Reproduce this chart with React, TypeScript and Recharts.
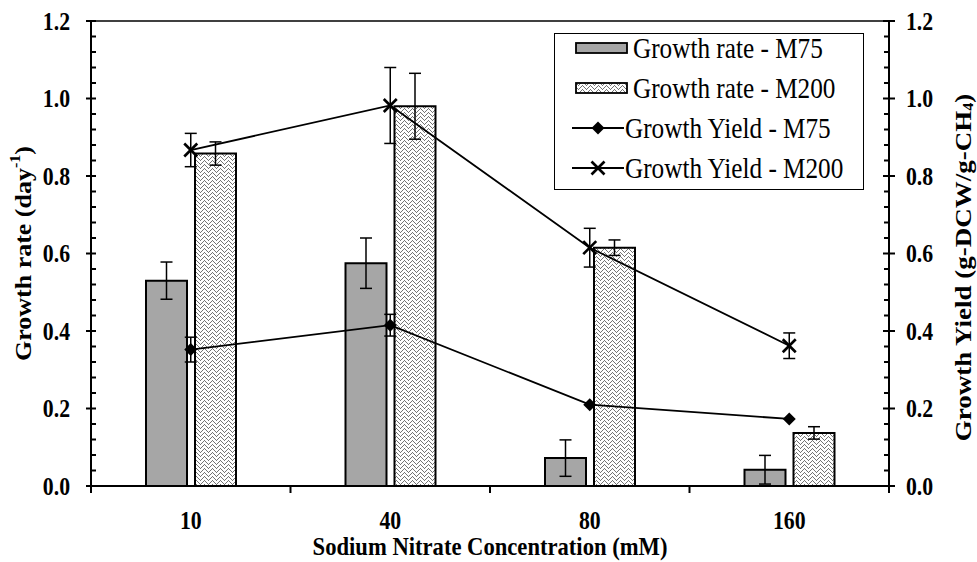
import React from 'react';
import {
  ComposedChart,
  Bar,
  Line,
  XAxis,
  YAxis,
  ErrorBar,
  ReferenceLine,
  Legend,
  Label,
} from 'recharts';

// Sodium nitrate concentrations (mM)
const concentrations = ['10', '40', '80', '160'];

// Specific growth rate (day^-1) and its error
const rateM75 = [0.53, 0.575, 0.072, 0.042];
const rateM75Err = [0.048, 0.065, 0.047, 0.037];
const rateM200 = [0.858, 0.98, 0.615, 0.137];
const rateM200Err = [0.03, 0.085, 0.02, 0.016];

// Growth yield (g-DCW / g-CH4) and its error
const yieldM75 = [0.352, 0.415, 0.21, 0.173];
const yieldM75Err = [0.032, 0.028, null, null];
const yieldM200 = [0.867, 0.982, 0.615, 0.362];
const yieldM200Err = [0.043, 0.098, 0.05, 0.033];

// Axis ticks: labelled majors plus unlabelled minors
const axisTicks = [
  0, 0.04, 0.08, 0.12, 0.16, 0.2, 0.24, 0.28, 0.32, 0.36, 0.4, 0.44, 0.48, 0.52, 0.56, 0.6,
  0.64, 0.68, 0.72, 0.76, 0.8, 0.84, 0.88, 0.92, 0.96, 1.0, 1.04, 1.08, 1.12, 1.16, 1.2,
];

const legendItems = [
  { name: 'Growth rate - M75', kind: 'solidBar' },
  { name: 'Growth rate - M200', kind: 'patternBar' },
  { name: 'Growth Yield - M75', kind: 'diamondLine' },
  { name: 'Growth Yield - M200', kind: 'crossLine' },
];

const data = concentrations.map((c, i) => ({
  conc: c,
  rateM75: rateM75[i],
  rateM75Err: rateM75Err[i],
  rateM200: rateM200[i],
  rateM200Err: rateM200Err[i],
  yieldM75: yieldM75[i],
  yieldM75Err: yieldM75Err[i],
  yieldM200: yieldM200[i],
  yieldM200Err: yieldM200Err[i],
}));

const W = 977;
const H = 562;
const PLOT_LEFT = 91;
const PLOT_RIGHT = 889;
const PLOT_TOP = 21;
const PLOT_BOTTOM = 486;
const BAND = (PLOT_RIGHT - PLOT_LEFT) / concentrations.length;

const SERIF = '"Liberation Serif", "Times New Roman", serif';
// Text is set tall and narrow: a font size plus a horizontal squeeze
const SQUEEZE = 0.87;
const TICK_FONT = 25;
const TITLE_FONT = 26;
const VTITLE_FONT = 26;
const LEGEND_FONT = 29;

const isMajor = (v: number) => Math.abs(v * 5 - Math.round(v * 5)) < 1e-6;

type STextProps = {
  x: number;
  y: number;
  size: number;
  bold?: boolean;
  anchor?: 'start' | 'middle' | 'end';
  vertical?: boolean;
  children: React.ReactNode;
};

// Horizontal text is squeezed along its length; vertical text across its thickness
const SText = ({ x, y, size, bold, anchor = 'start', vertical, children }: STextProps) => (
  <text
    transform={
      vertical
        ? `translate(${x},${y}) rotate(-90) scale(1,${SQUEEZE})`
        : `translate(${x},${y}) scale(${SQUEEZE},1)`
    }
    textAnchor={anchor}
    dominantBaseline="central"
    fontFamily={SERIF}
    fontWeight={bold ? 'bold' : 'normal'}
    fontSize={size}
    fill="#000"
  >
    {children}
  </text>
);

// Zig-zag dotted fill used for the M200 bars
const ZigZagPattern = ({ id }: { id: string }) => {
  const cells: React.ReactNode[] = [];
  for (let x = 0; x < 8; x++) {
    const base = Math.abs(x - 4);
    [base, base + 4].forEach((y, k) => {
      cells.push(<rect key={`${x}-${k}`} x={x} y={y % 8} width={1} height={1} fill="#747474" />);
    });
  }
  return (
    <pattern id={id} patternUnits="userSpaceOnUse" width={8} height={8}>
      <rect x={0} y={0} width={8} height={8} fill="#ffffff" />
      {cells}
    </pattern>
  );
};

const LeftTick = (props: any) => {
  const { x, y, payload } = props;
  const v = payload.value as number;
  const major = isMajor(v);
  return (
    <g>
      {major ? (
        <line x1={x - 5} x2={x + 5} y1={y} y2={y} stroke="#000" strokeWidth={2} />
      ) : (
        <line x1={x} x2={x + 5} y1={y} y2={y} stroke="#000" strokeWidth={2} />
      )}
      {major && (
        <SText x={x - 21} y={y} size={TICK_FONT} bold anchor="end">
          {v.toFixed(1)}
        </SText>
      )}
    </g>
  );
};

const RightTick = (props: any) => {
  const { x, y, payload } = props;
  const v = payload.value as number;
  const major = isMajor(v);
  return (
    <g>
      {major ? (
        <line x1={x - 6} x2={x + 6} y1={y} y2={y} stroke="#000" strokeWidth={2} />
      ) : (
        <line x1={x - 5} x2={x} y1={y} y2={y} stroke="#000" strokeWidth={2} />
      )}
      {major && (
        <SText x={x + 17} y={y} size={TICK_FONT} bold anchor="start">
          {v.toFixed(1)}
        </SText>
      )}
    </g>
  );
};

const BottomTick = (props: any) => {
  const { x, y, payload, index, visibleTicksCount } = props;
  return (
    <g>
      <line x1={x - BAND / 2} x2={x - BAND / 2} y1={y} y2={y + 7} stroke="#000" strokeWidth={2} />
      {index === visibleTicksCount - 1 && (
        <line x1={x + BAND / 2} x2={x + BAND / 2} y1={y} y2={y + 7} stroke="#000" strokeWidth={2} />
      )}
      <SText x={x} y={y + 34} size={TICK_FONT} bold anchor="middle">
        {payload.value}
      </SText>
    </g>
  );
};

const DiamondDot = (props: any) => {
  const { cx, cy } = props;
  if (cx == null || cy == null) return null;
  const r = 6.5;
  return (
    <path
      d={`M${cx},${cy - r} L${cx + r},${cy} L${cx},${cy + r} L${cx - r},${cy} Z`}
      fill="#000"
    />
  );
};

const CrossDot = (props: any) => {
  const { cx, cy } = props;
  if (cx == null || cy == null) return null;
  const r = 6.5;
  return (
    <g stroke="#000" strokeWidth={2.6}>
      <line x1={cx - r} y1={cy - r} x2={cx + r} y2={cy + r} />
      <line x1={cx - r} y1={cy + r} x2={cx + r} y2={cy - r} />
    </g>
  );
};

const MID_Y = (PLOT_TOP + PLOT_BOTTOM) / 2;

const LeftTitle = () => (
  <SText x={23} y={MID_Y} size={VTITLE_FONT} bold anchor="middle" vertical>
    Growth rate (day
    <tspan dy={-9} fontSize={VTITLE_FONT * 0.62}>-1</tspan>
    <tspan dy={9}>)</tspan>
  </SText>
);

const RightTitle = () => (
  <SText x={963} y={MID_Y + 14} size={VTITLE_FONT + 1} bold anchor="middle" vertical>
    Growth Yield (g-DCW/g-CH
    <tspan dy={6} fontSize={VTITLE_FONT * 0.62}>4</tspan>
    <tspan dy={-6}>)</tspan>
  </SText>
);

const BottomTitle = () => (
  <SText x={(PLOT_LEFT + PLOT_RIGHT) / 2} y={546} size={TITLE_FONT} bold anchor="middle">
    Sodium Nitrate Concentration (mM)
  </SText>
);

const LEG_W = 310;
const LEG_H = 157;
const LEG_ROW = 40;

const renderLegend = () => (
  <svg width={LEG_W} height={LEG_H} style={{ display: 'block' }}>
    <defs>
      <ZigZagPattern id="legendZigZag" />
    </defs>
    <rect x={0.5} y={0.5} width={LEG_W - 1} height={LEG_H - 1} fill="#fff" stroke="#000" strokeWidth={1} />
    {legendItems.map((item, i) => {
      const cy = 15 + i * LEG_ROW;
      let swatch: React.ReactNode = null;
      let textX = 80;
      if (item.kind === 'solidBar' || item.kind === 'patternBar') {
        swatch = (
          <rect
            x={22}
            y={cy - 5}
            width={51}
            height={10}
            fill={item.kind === 'solidBar' ? '#a6a6a6' : 'url(#legendZigZag)'}
            stroke="#000"
            strokeWidth={1.8}
          />
        );
        textX = 79;
      } else {
        swatch = (
          <g>
            <line x1={18} x2={70} y1={cy} y2={cy} stroke="#000" strokeWidth={1.8} />
            {item.kind === 'diamondLine' ? <DiamondDot cx={44} cy={cy} /> : <CrossDot cx={44} cy={cy} />}
          </g>
        );
        textX = 71;
      }
      return (
        <g key={item.name}>
          {swatch}
          <SText x={textX} y={cy} size={LEGEND_FONT}>
            {item.name}
          </SText>
        </g>
      );
    })}
  </svg>
);

export default function App() {
  return (
    <div style={{ position: 'absolute', left: 0, top: 0, width: W, height: H, background: '#fff' }}>
      <ComposedChart
        width={W}
        height={H}
        data={data}
        margin={{ top: PLOT_TOP, right: 0, bottom: 0, left: 0 }}
        barGap={8}
      >
        <defs>
          <ZigZagPattern id="barZigZag" />
        </defs>
        <XAxis
          dataKey="conc"
          height={H - PLOT_BOTTOM}
          axisLine={{ stroke: '#000', strokeWidth: 2 }}
          tickLine={false}
          tickSize={0}
          tickMargin={0}
          tick={<BottomTick />}
          interval={0}
        >
          <Label content={<BottomTitle />} />
        </XAxis>
        <YAxis
          yAxisId="left"
          orientation="left"
          width={PLOT_LEFT}
          domain={[0, 1.2]}
          ticks={axisTicks}
          interval={0}
          axisLine={{ stroke: '#000', strokeWidth: 2 }}
          tickLine={false}
          tickSize={0}
          tickMargin={0}
          tick={<LeftTick />}
        >
          <Label content={<LeftTitle />} />
        </YAxis>
        <YAxis
          yAxisId="right"
          orientation="right"
          width={W - PLOT_RIGHT}
          domain={[0, 1.2]}
          ticks={axisTicks}
          interval={0}
          axisLine={{ stroke: '#000', strokeWidth: 2 }}
          tickLine={false}
          tickSize={0}
          tickMargin={0}
          tick={<RightTick />}
        >
          <Label content={<RightTitle />} />
        </YAxis>
        <ReferenceLine yAxisId="left" y={1.2} stroke="#000" strokeWidth={1.5} />
        <Bar
          yAxisId="left"
          dataKey="rateM75"
          name="Growth rate - M75"
          barSize={41}
          fill="#a6a6a6"
          stroke="#000"
          strokeWidth={2}
          isAnimationActive={false}
        >
          <ErrorBar dataKey="rateM75Err" direction="y" width={6} stroke="#000" strokeWidth={1.5} />
        </Bar>
        <Bar
          yAxisId="left"
          dataKey="rateM200"
          name="Growth rate - M200"
          barSize={41}
          fill="url(#barZigZag)"
          stroke="#000"
          strokeWidth={2}
          isAnimationActive={false}
        >
          <ErrorBar dataKey="rateM200Err" direction="y" width={6} stroke="#000" strokeWidth={1.5} />
        </Bar>
        <Line
          yAxisId="right"
          dataKey="yieldM75"
          name="Growth Yield - M75"
          stroke="#000"
          strokeWidth={1.8}
          dot={<DiamondDot />}
          activeDot={false}
          isAnimationActive={false}
        >
          <ErrorBar dataKey="yieldM75Err" direction="y" width={6} stroke="#000" strokeWidth={1.5} />
        </Line>
        <Line
          yAxisId="right"
          dataKey="yieldM200"
          name="Growth Yield - M200"
          stroke="#000"
          strokeWidth={1.8}
          dot={<CrossDot />}
          activeDot={false}
          isAnimationActive={false}
        >
          <ErrorBar dataKey="yieldM200Err" direction="y" width={6} stroke="#000" strokeWidth={1.5} />
        </Line>
        <Legend
          layout="vertical"
          align="center"
          verticalAlign="middle"
          content={renderLegend}
          wrapperStyle={{ position: 'absolute', left: 554, top: 33, width: LEG_W, height: LEG_H }}
        />
      </ComposedChart>
    </div>
  );
}
